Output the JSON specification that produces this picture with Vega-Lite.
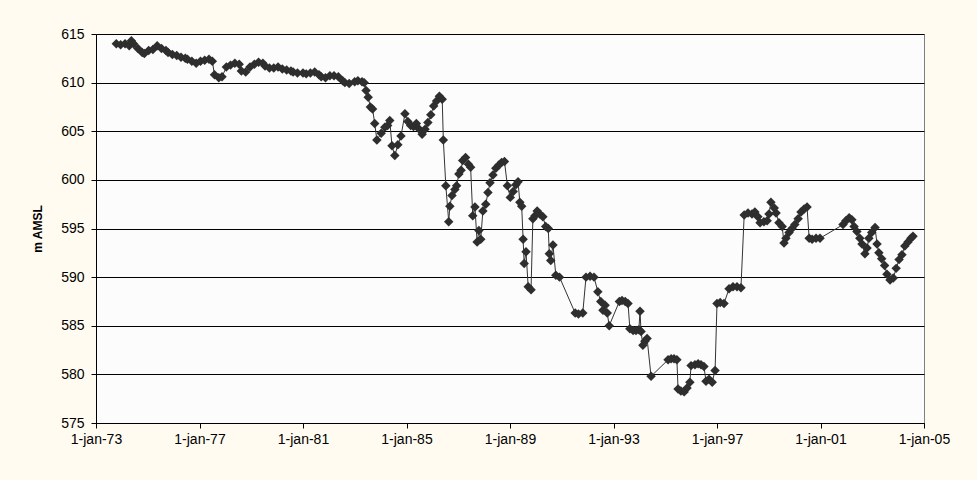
{
  "$schema": "https://vega.github.io/schema/vega-lite/v6.json",
  "width": 828,
  "height": 389,
  "autosize": {"type": "none"},
  "padding": {"left": 96, "top": 34, "right": 53, "bottom": 57},
  "background": "#FFFBF0",
  "config": {
    "font": "Liberation Sans",
    "view": {"fill": "#FCFCFC", "stroke": "#808080", "strokeWidth": 1}
  },
  "data": {
    "values": [
      {"date": "1973-10-15", "level": 614.0},
      {"date": "1973-12-15", "level": 613.9},
      {"date": "1974-02-15", "level": 614.0},
      {"date": "1974-04-15", "level": 613.8},
      {"date": "1974-05-15", "level": 614.3},
      {"date": "1974-06-15", "level": 614.0},
      {"date": "1974-08-15", "level": 613.5},
      {"date": "1974-10-15", "level": 613.1},
      {"date": "1974-11-15", "level": 613.0},
      {"date": "1975-01-15", "level": 613.3},
      {"date": "1975-03-15", "level": 613.4},
      {"date": "1975-05-15", "level": 613.8},
      {"date": "1975-07-15", "level": 613.5},
      {"date": "1975-09-15", "level": 613.3},
      {"date": "1975-10-15", "level": 613.1},
      {"date": "1975-12-15", "level": 612.9},
      {"date": "1976-02-15", "level": 612.8},
      {"date": "1976-04-15", "level": 612.6},
      {"date": "1976-06-15", "level": 612.5},
      {"date": "1976-07-15", "level": 612.4},
      {"date": "1976-09-15", "level": 612.2},
      {"date": "1976-11-15", "level": 612.0},
      {"date": "1977-01-15", "level": 612.2},
      {"date": "1977-03-15", "level": 612.3},
      {"date": "1977-05-15", "level": 612.4},
      {"date": "1977-07-01", "level": 612.2},
      {"date": "1977-08-01", "level": 610.8},
      {"date": "1977-10-01", "level": 610.5},
      {"date": "1977-11-15", "level": 610.6},
      {"date": "1978-01-15", "level": 611.6},
      {"date": "1978-03-15", "level": 611.8},
      {"date": "1978-05-15", "level": 612.0},
      {"date": "1978-07-15", "level": 611.9},
      {"date": "1978-08-15", "level": 611.2},
      {"date": "1978-10-15", "level": 611.1},
      {"date": "1978-12-15", "level": 611.6},
      {"date": "1979-02-15", "level": 611.9},
      {"date": "1979-04-15", "level": 612.1},
      {"date": "1979-06-15", "level": 612.0},
      {"date": "1979-07-15", "level": 611.7},
      {"date": "1979-09-15", "level": 611.5},
      {"date": "1979-11-15", "level": 611.5},
      {"date": "1980-01-15", "level": 611.6},
      {"date": "1980-03-15", "level": 611.4},
      {"date": "1980-05-15", "level": 611.3},
      {"date": "1980-07-15", "level": 611.2},
      {"date": "1980-08-15", "level": 611.1},
      {"date": "1980-10-15", "level": 611.0},
      {"date": "1981-01-01", "level": 611.0},
      {"date": "1981-02-15", "level": 610.9},
      {"date": "1981-04-15", "level": 611.0},
      {"date": "1981-06-15", "level": 611.1},
      {"date": "1981-08-15", "level": 610.8},
      {"date": "1981-09-15", "level": 610.6},
      {"date": "1981-11-15", "level": 610.5},
      {"date": "1982-01-15", "level": 610.7},
      {"date": "1982-03-15", "level": 610.7},
      {"date": "1982-05-15", "level": 610.6},
      {"date": "1982-07-15", "level": 610.2},
      {"date": "1982-08-15", "level": 610.0},
      {"date": "1982-10-15", "level": 609.9},
      {"date": "1983-01-01", "level": 610.1},
      {"date": "1983-02-15", "level": 610.2},
      {"date": "1983-04-15", "level": 610.1},
      {"date": "1983-05-15", "level": 610.0},
      {"date": "1983-06-10", "level": 609.2},
      {"date": "1983-07-10", "level": 608.5},
      {"date": "1983-08-10", "level": 607.5},
      {"date": "1983-09-10", "level": 607.3},
      {"date": "1983-10-10", "level": 605.8},
      {"date": "1983-11-10", "level": 604.1},
      {"date": "1984-01-10", "level": 604.8},
      {"date": "1984-03-01", "level": 605.4},
      {"date": "1984-04-10", "level": 605.6},
      {"date": "1984-05-10", "level": 606.1},
      {"date": "1984-06-10", "level": 603.5},
      {"date": "1984-07-20", "level": 602.5},
      {"date": "1984-09-01", "level": 603.6},
      {"date": "1984-10-15", "level": 604.5},
      {"date": "1984-12-10", "level": 606.8},
      {"date": "1985-01-20", "level": 606.0},
      {"date": "1985-03-01", "level": 605.6},
      {"date": "1985-04-10", "level": 605.5},
      {"date": "1985-05-20", "level": 605.8},
      {"date": "1985-07-01", "level": 605.2},
      {"date": "1985-08-10", "level": 604.7},
      {"date": "1985-09-20", "level": 605.2},
      {"date": "1985-10-30", "level": 605.9},
      {"date": "1985-12-10", "level": 606.7},
      {"date": "1986-01-20", "level": 607.6},
      {"date": "1986-03-01", "level": 608.1},
      {"date": "1986-04-10", "level": 608.6},
      {"date": "1986-05-20", "level": 608.3},
      {"date": "1986-06-05", "level": 604.1},
      {"date": "1986-07-10", "level": 599.4},
      {"date": "1986-08-20", "level": 595.7},
      {"date": "1986-09-05", "level": 597.3},
      {"date": "1986-10-05", "level": 598.4},
      {"date": "1986-11-15", "level": 599.0},
      {"date": "1986-12-10", "level": 599.4},
      {"date": "1987-01-10", "level": 600.6},
      {"date": "1987-02-10", "level": 601.0},
      {"date": "1987-03-05", "level": 602.0},
      {"date": "1987-04-15", "level": 602.3},
      {"date": "1987-05-25", "level": 601.6},
      {"date": "1987-06-25", "level": 601.3},
      {"date": "1987-07-25", "level": 596.3},
      {"date": "1987-08-25", "level": 597.2},
      {"date": "1987-09-25", "level": 593.6},
      {"date": "1987-10-20", "level": 594.8},
      {"date": "1987-11-15", "level": 593.9},
      {"date": "1987-12-15", "level": 596.8},
      {"date": "1988-01-25", "level": 597.5},
      {"date": "1988-02-25", "level": 598.7},
      {"date": "1988-03-25", "level": 599.7},
      {"date": "1988-05-05", "level": 600.5},
      {"date": "1988-06-15", "level": 601.2},
      {"date": "1988-07-25", "level": 601.5},
      {"date": "1988-09-05", "level": 601.8},
      {"date": "1988-10-15", "level": 601.9},
      {"date": "1988-11-25", "level": 599.4},
      {"date": "1989-01-05", "level": 598.2},
      {"date": "1989-02-15", "level": 598.8},
      {"date": "1989-03-25", "level": 599.5},
      {"date": "1989-04-25", "level": 599.8},
      {"date": "1989-05-20", "level": 597.7},
      {"date": "1989-06-15", "level": 597.3},
      {"date": "1989-07-05", "level": 593.9},
      {"date": "1989-07-20", "level": 591.4},
      {"date": "1989-08-15", "level": 592.6},
      {"date": "1989-09-15", "level": 589.0},
      {"date": "1989-10-25", "level": 588.7},
      {"date": "1989-11-20", "level": 596.0},
      {"date": "1989-12-20", "level": 596.3},
      {"date": "1990-01-20", "level": 596.8},
      {"date": "1990-02-25", "level": 596.5},
      {"date": "1990-04-10", "level": 596.2},
      {"date": "1990-05-20", "level": 595.2},
      {"date": "1990-06-25", "level": 595.0},
      {"date": "1990-07-10", "level": 592.4},
      {"date": "1990-07-30", "level": 591.7},
      {"date": "1990-08-30", "level": 593.3},
      {"date": "1990-10-10", "level": 590.2},
      {"date": "1990-12-01", "level": 590.0},
      {"date": "1991-07-10", "level": 586.3},
      {"date": "1991-08-25", "level": 586.2},
      {"date": "1991-10-25", "level": 586.3},
      {"date": "1991-12-10", "level": 590.0},
      {"date": "1992-02-05", "level": 590.1},
      {"date": "1992-04-01", "level": 590.0},
      {"date": "1992-05-25", "level": 588.5},
      {"date": "1992-07-05", "level": 587.5},
      {"date": "1992-08-05", "level": 586.6},
      {"date": "1992-09-05", "level": 587.1},
      {"date": "1992-10-05", "level": 586.3},
      {"date": "1992-11-01", "level": 585.0},
      {"date": "1993-03-25", "level": 587.5},
      {"date": "1993-05-01", "level": 587.6},
      {"date": "1993-06-15", "level": 587.5},
      {"date": "1993-07-25", "level": 587.3},
      {"date": "1993-08-20", "level": 584.7},
      {"date": "1993-10-05", "level": 584.5},
      {"date": "1993-11-15", "level": 584.5},
      {"date": "1993-12-25", "level": 584.6},
      {"date": "1994-01-10", "level": 586.5},
      {"date": "1994-01-25", "level": 584.4},
      {"date": "1994-02-20", "level": 583.0},
      {"date": "1994-03-20", "level": 583.4},
      {"date": "1994-04-20", "level": 583.7},
      {"date": "1994-06-15", "level": 579.8},
      {"date": "1995-02-10", "level": 581.5},
      {"date": "1995-03-25", "level": 581.6},
      {"date": "1995-05-05", "level": 581.6},
      {"date": "1995-06-15", "level": 581.5},
      {"date": "1995-07-01", "level": 578.5},
      {"date": "1995-08-10", "level": 578.3},
      {"date": "1995-09-25", "level": 578.2},
      {"date": "1995-11-05", "level": 578.6},
      {"date": "1995-12-15", "level": 579.2},
      {"date": "1996-01-01", "level": 580.9},
      {"date": "1996-02-25", "level": 581.0},
      {"date": "1996-04-10", "level": 581.1},
      {"date": "1996-05-20", "level": 581.0},
      {"date": "1996-07-01", "level": 580.8},
      {"date": "1996-07-30", "level": 579.3},
      {"date": "1996-09-10", "level": 579.5},
      {"date": "1996-10-25", "level": 579.2},
      {"date": "1996-12-05", "level": 580.4},
      {"date": "1997-01-01", "level": 587.3},
      {"date": "1997-02-15", "level": 587.4},
      {"date": "1997-04-10", "level": 587.3},
      {"date": "1997-06-20", "level": 588.8},
      {"date": "1997-08-15", "level": 589.0},
      {"date": "1997-10-10", "level": 589.0},
      {"date": "1997-12-05", "level": 588.9},
      {"date": "1998-01-20", "level": 596.4},
      {"date": "1998-03-15", "level": 596.6},
      {"date": "1998-05-10", "level": 596.5},
      {"date": "1998-06-20", "level": 596.7},
      {"date": "1998-08-01", "level": 596.2},
      {"date": "1998-09-01", "level": 595.6},
      {"date": "1998-10-25", "level": 595.7},
      {"date": "1998-12-10", "level": 595.8},
      {"date": "1999-01-05", "level": 596.5},
      {"date": "1999-02-01", "level": 597.7},
      {"date": "1999-03-20", "level": 597.1},
      {"date": "1999-04-15", "level": 596.6},
      {"date": "1999-05-25", "level": 595.6},
      {"date": "1999-07-10", "level": 595.2},
      {"date": "1999-08-05", "level": 593.5},
      {"date": "1999-09-01", "level": 594.0},
      {"date": "1999-10-15", "level": 594.6},
      {"date": "1999-11-25", "level": 595.0},
      {"date": "2000-01-05", "level": 595.4},
      {"date": "2000-02-20", "level": 596.0},
      {"date": "2000-04-01", "level": 596.7},
      {"date": "2000-05-15", "level": 597.0},
      {"date": "2000-06-25", "level": 597.2},
      {"date": "2000-07-25", "level": 594.0},
      {"date": "2000-09-05", "level": 593.9},
      {"date": "2000-10-30", "level": 594.0},
      {"date": "2000-12-25", "level": 594.0},
      {"date": "2001-11-15", "level": 595.4},
      {"date": "2001-12-25", "level": 595.8},
      {"date": "2002-02-10", "level": 596.1},
      {"date": "2002-03-20", "level": 595.9},
      {"date": "2002-04-20", "level": 595.2},
      {"date": "2002-05-30", "level": 594.7},
      {"date": "2002-07-10", "level": 594.0},
      {"date": "2002-08-10", "level": 593.4},
      {"date": "2002-09-20", "level": 592.4},
      {"date": "2002-10-20", "level": 593.0},
      {"date": "2002-11-15", "level": 594.0},
      {"date": "2002-12-25", "level": 594.6},
      {"date": "2003-02-10", "level": 595.1},
      {"date": "2003-03-10", "level": 593.4},
      {"date": "2003-04-05", "level": 592.5},
      {"date": "2003-05-15", "level": 591.9},
      {"date": "2003-06-25", "level": 591.2},
      {"date": "2003-07-28", "level": 590.3},
      {"date": "2003-09-10", "level": 589.7},
      {"date": "2003-10-25", "level": 589.9},
      {"date": "2003-12-05", "level": 590.9},
      {"date": "2004-01-15", "level": 591.8},
      {"date": "2004-02-25", "level": 592.3},
      {"date": "2004-04-05", "level": 593.2},
      {"date": "2004-05-20", "level": 593.6},
      {"date": "2004-07-01", "level": 594.0},
      {"date": "2004-07-30", "level": 594.2}
    ]
  },
  "encoding": {
    "x": {
      "field": "date",
      "type": "temporal",
      "scale": {
        "type": "utc",
        "domain": [
          {"year": 1973, "month": 1, "date": 1, "utc": true},
          {"year": 2005, "month": 1, "date": 1, "utc": true}
        ],
        "nice": false
      },
      "axis": {
        "title": null,
        "grid": false,
        "values": [
          {"year": 1973, "month": 1, "date": 1, "utc": true},
          {"year": 1977, "month": 1, "date": 1, "utc": true},
          {"year": 1981, "month": 1, "date": 1, "utc": true},
          {"year": 1985, "month": 1, "date": 1, "utc": true},
          {"year": 1989, "month": 1, "date": 1, "utc": true},
          {"year": 1993, "month": 1, "date": 1, "utc": true},
          {"year": 1997, "month": 1, "date": 1, "utc": true},
          {"year": 2001, "month": 1, "date": 1, "utc": true},
          {"year": 2005, "month": 1, "date": 1, "utc": true}
        ],
        "labelExpr": "'1-jan-' + utcFormat(datum.value, '%y')",
        "labelFont": "Liberation Sans",
        "labelFontSize": 14,
        "labelColor": "#000000",
        "labelPadding": 4,
        "labelFlush": false,
        "labelOverlap": false,
        "domainColor": "#000000",
        "tickColor": "#000000",
        "tickSize": 5
      }
    },
    "y": {
      "field": "level",
      "type": "quantitative",
      "scale": {"domain": [575, 615], "nice": false, "zero": false},
      "axis": {
        "title": "m AMSL",
        "titleFont": "Liberation Sans",
        "titleFontSize": 12,
        "titleFontWeight": "bold",
        "titleColor": "#000000",
        "titlePadding": 16,
        "values": [575, 580, 585, 590, 595, 600, 605, 610, 615],
        "labelFont": "Liberation Sans",
        "labelFontSize": 14,
        "labelColor": "#000000",
        "labelPadding": 7,
        "domainColor": "#000000",
        "tickColor": "#000000",
        "tickSize": 5,
        "grid": true,
        "gridColor": "#000000",
        "gridWidth": 1
      }
    }
  },
  "layer": [
    {
      "mark": {"type": "line", "color": "#333333", "strokeWidth": 1}
    },
    {
      "mark": {"type": "point", "shape": "diamond", "filled": true, "color": "#2e2e2e", "size": 90, "opacity": 1}
    }
  ]
}
